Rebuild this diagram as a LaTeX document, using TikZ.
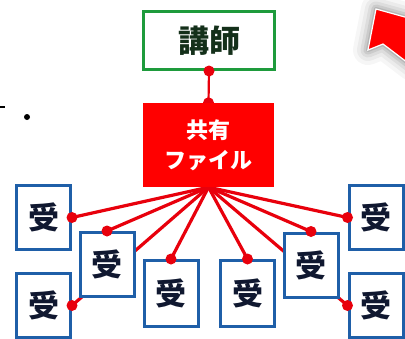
\documentclass[tikz,border=0pt]{standalone}
\usepackage{fontspec}
\newfontfamily\jp{Noto Sans CJK JP}
\usetikzlibrary{backgrounds}
\pgfdeclarelayer{bottom}
\pgfsetlayers{bottom,background,main}
\definecolor{tgreen}{HTML}{1E9B3C}
\definecolor{ttext}{HTML}{14301A}
\definecolor{rblue}{HTML}{1F5FA8}
\definecolor{rtext}{HTML}{101830}
\definecolor{lred}{HTML}{E8000C}
\definecolor{bred}{HTML}{FF0000}
\begin{document}
\begin{tikzpicture}[x=1pt,y=-1pt,
  recv/.style={draw=rblue, line width=3pt, fill=white, minimum width=54pt,
    minimum height=64pt, inner sep=0pt, text=rtext,
    font=\jp\bfseries\fontsize{31}{31}\selectfont},
  teacher/.style={draw=tgreen, line width=3pt, fill=white, minimum width=131pt,
    minimum height=58pt, inner sep=0pt, text=ttext,
    font=\jp\bfseries\fontsize{31}{31}\selectfont},
  shared/.style={fill=bred, minimum width=131pt, minimum height=84pt,
    inner sep=0pt, text=white, align=center,
    font=\jp\bfseries\fontsize{22}{30}\selectfont},
  conn/.style={lred, line width=3.2pt},
  tconn/.style={lred, line width=2.2pt},
  dot/.style={fill=lred}]
\useasboundingbox (0,0) rectangle (405,338);
\clip (0,0) rectangle (405,338);
\begin{pgfonlayer}{bottom}
  \fill[white] (0,0) rectangle (405,338);
\end{pgfonlayer}

% soft shadow and arrow, top right
\foreach \w/\o in {30/0.035,22/0.045,15/0.06,9/0.08,4/0.1}{
  \draw[black, opacity=\o, line width=\w pt, line join=round]
    (376,9) -- (412,19) -- (412,66) -- (383,44) -- (368,50) -- cycle;}
\fill[bred, draw=white, line width=1.2pt, line join=miter]
  (376,9) -- (412,19) -- (412,66) -- (383,44) -- (368,50) -- cycle;

% text fragments at left
\draw[black, line width=1.6pt] (0,107) -- (5,107);
\fill[black] (27,117) circle (3pt);

% nodes
\node[teacher] (T) at (209,40.5) {講師};
\node[shared] (S) at (208.5,145) {共有\\ファイル};
\node[recv] (A) at (43.5,217.5) {受};
\node[recv] (B) at (107,264.5) {受};
\node[recv] (C) at (43.5,305.5) {受};
\node[recv, minimum height=66pt] (D) at (171,293.5) {受};
\node[recv, minimum height=66pt] (E) at (247.5,293.5) {受};
\node[recv] (F) at (311,265) {受};
\node[recv] (G) at (376,217.5) {受};
\node[recv] (H) at (376,305.5) {受};

% connectors behind the boxes
\begin{pgfonlayer}{background}
  \draw[tconn] (T.south) -- (S.north);
  \fill[dot] (S.north) circle (5.5pt);
  \draw[conn] (S.south) -- (A.east);
  \draw[conn] (S.south) -- (B.north);
  \draw[conn] (S.south) -- (C.east);
  \draw[conn] (S.south) -- (D.north);
  \draw[conn] (S.south) -- (E.north);
  \draw[conn] (S.south) -- (F.north);
  \draw[conn] (S.south) -- (G.west);
  \draw[conn] (S.south) -- (H.west);
\end{pgfonlayer}

% end dots on top
\fill[dot] (T.south) circle (5.5pt);
\fill[dot] (A.east) circle (5.5pt);
\fill[dot] (B.north) circle (5.5pt);
\fill[dot] (C.east) circle (5.5pt);
\fill[dot] (D.north) circle (5.5pt);
\fill[dot] (E.north) circle (5.5pt);
\fill[dot] (F.north) circle (5.5pt);
\fill[dot] (G.west) circle (5.5pt);
\fill[dot] (H.west) circle (5.5pt);
\end{tikzpicture}
\end{document}
